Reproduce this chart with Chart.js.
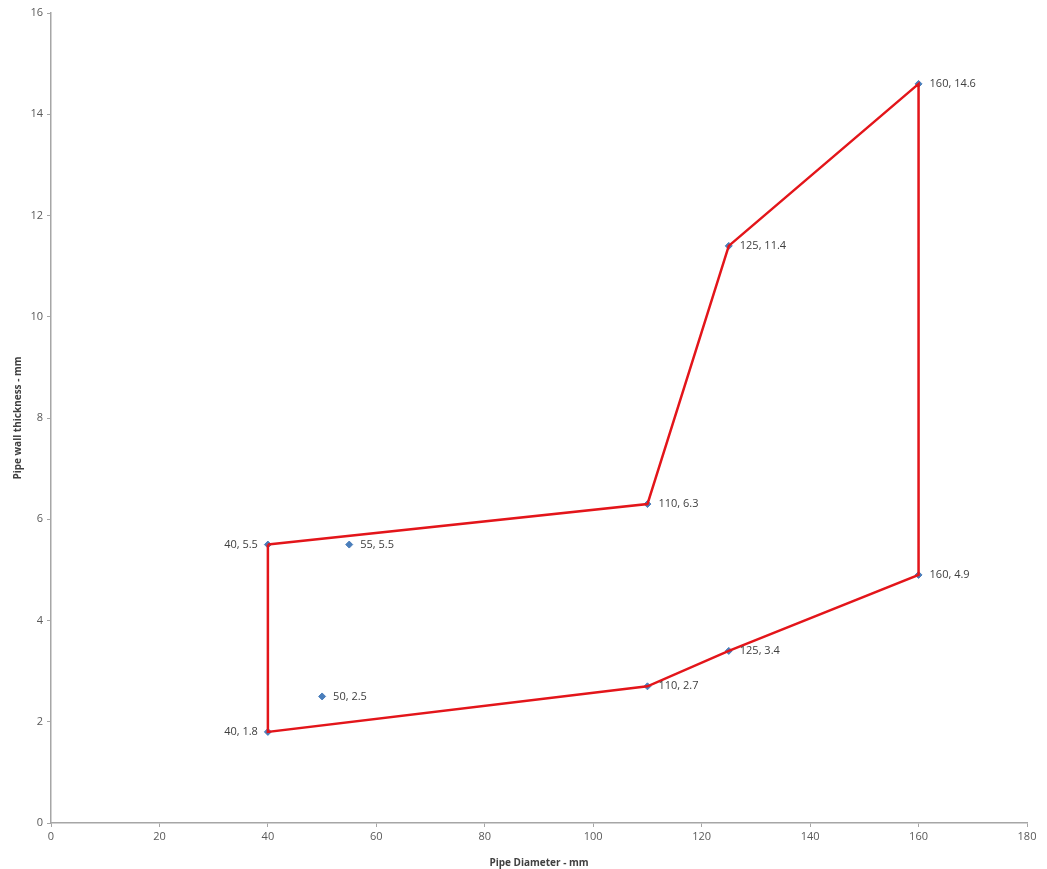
<!DOCTYPE html>
<html>
<head>
<meta charset="utf-8">
<script src="https://cdn.jsdelivr.net/npm/chart.js@4/dist/chart.umd.min.js"></script>
<style>
  html, body { margin: 0; padding: 0; background: #fff; }
  #wrap { width: 1047px; height: 869px; position: relative; }
</style>
</head>
<body>
<div id="wrap"><canvas id="chart"></canvas></div>
<script>
// boundary polygon (red line), in drawing order
const boundaryX = [40, 110, 125, 160, 160, 125, 110, 40, 40];
const boundaryY = [5.5, 6.3, 11.4, 14.6, 4.9, 3.4, 2.7, 1.8, 5.5];

// measured points (blue diamonds)
const pointX = [40, 55, 110, 125, 160, 160, 125, 110, 50, 40];
const pointY = [5.5, 5.5, 6.3, 11.4, 14.6, 4.9, 3.4, 2.7, 2.5, 1.8];
// points whose label sits left of the marker
const labelLeft = [true, false, false, false, false, false, false, false, false, true];

const xTitle = 'Pipe Diameter - mm';
const yTitle = 'Pipe wall thickness - mm';

const font = '"Open Sans", "Liberation Sans", sans-serif';

const pointLabels = {
    id: 'pointLabels',
    afterDatasetsDraw(chart) {
        const ctx = chart.ctx;
        const meta = chart.getDatasetMeta(1);
        ctx.save();
        ctx.font = '11px ' + font;
        ctx.fillStyle = '#404040';
        ctx.textBaseline = 'middle';
        meta.data.forEach((el, i) => {
            const text = pointX[i] + ', ' + pointY[i];
            if (labelLeft[i]) {
                ctx.textAlign = 'right';
                ctx.fillText(text, el.x - 10, el.y);
            } else {
                ctx.textAlign = 'left';
                ctx.fillText(text, el.x + 11, el.y);
            }
        });
        ctx.restore();
    }
};

new Chart(document.getElementById('chart'), {
    type: 'scatter',
    data: {
        datasets: [
            {
                data: boundaryX.map((x, i) => ({ x, y: boundaryY[i] })),
                showLine: true,
                borderColor: '#e3151a',
                borderWidth: 2.5,
                pointRadius: 0,
                tension: 0
            },
            {
                data: pointX.map((x, i) => ({ x, y: pointY[i] })),
                showLine: false,
                pointStyle: 'rectRot',
                pointRadius: 3.5,
                backgroundColor: '#4a7ebb',
                borderColor: '#4a7ebb',
                borderWidth: 1
            }
        ]
    },
    options: {
        responsive: true,
        maintainAspectRatio: false,
        animation: false,
        layout: { padding: { left: 0, right: 20, top: 13, bottom: 0 } },
        plugins: {
            legend: { display: false },
            tooltip: { enabled: false }
        },
        scales: {
            x: {
                type: 'linear',
                min: 0,
                max: 180,
                ticks: { stepSize: 20, color: '#595959', font: { family: font, size: 11 }, padding: 3 },
                grid: { drawOnChartArea: false, drawTicks: true, tickLength: 4, color: '#a6a6a6' },
                border: { color: '#a6a6a6', width: 1.5 },
                title: { display: true, text: xTitle, color: '#404040', font: { family: font, size: 10, weight: 'bold' }, padding: { top: 2, bottom: 0 } },
                afterFit: (axis) => { axis.height = 46; }
            },
            y: {
                min: 0,
                max: 16,
                ticks: { stepSize: 2, color: '#595959', font: { family: font, size: 11 }, padding: 4 },
                grid: { drawOnChartArea: false, drawTicks: true, tickLength: 4, color: '#a6a6a6' },
                border: { color: '#a6a6a6', width: 1.5 },
                title: { display: true, text: yTitle, color: '#404040', font: { family: font, size: 10, weight: 'bold' }, padding: { top: 12, bottom: 4 } },
                afterFit: (axis) => { axis.width = 51; }
            }
        }
    },
    plugins: [pointLabels]
});
</script>
</body>
</html>
